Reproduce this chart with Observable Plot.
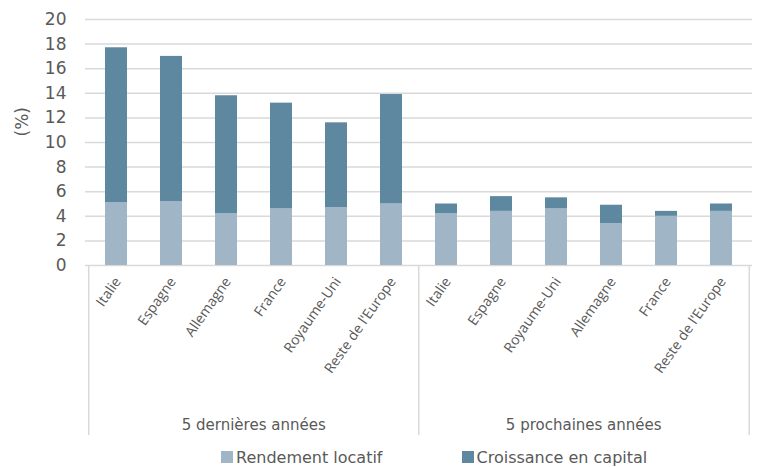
<!DOCTYPE html>
<html>
<head>
<meta charset="utf-8">
<script src="https://cdn.jsdelivr.net/npm/d3@7"></script>
<script src="https://cdn.jsdelivr.net/npm/@observablehq/plot@0.6"></script>
<style>
  body { margin: 0; background: #fff; }
  #chart { width: 757px; }
  .legend { display: flex; align-items: center; height: 20px; padding-top: 7px; padding-left: 221px;
            font-family: "DejaVu Sans", sans-serif; font-size: 16px; color: #595959; }
  .legend .item { display: flex; align-items: center; margin-right: 79px; }
  .legend .sw { width: 12px; height: 12px; margin-right: 3px; }
</style>
</head>
<body>
<div id="chart"></div>
<script>
// Périodes et pays
const groups = ["5 dernières années", "5 prochaines années"];
const countriesPast = ["Italie", "Espagne", "Allemagne", "France", "Royaume-Uni", "Reste de l'Europe"];
const countriesNext = ["Italie", "Espagne", "Royaume-Uni", "Allemagne", "France", "Reste de l'Europe"];

// Rendement locatif et croissance en capital (%)
const rendementPast = [5.1, 5.2, 4.2, 4.6, 4.7, 5.0];
const croissancePast = [12.6, 11.8, 9.6, 8.6, 6.9, 8.9];
const rendementNext = [4.2, 4.4, 4.6, 3.4, 4.0, 4.4];
const croissanceNext = [0.8, 1.2, 0.9, 1.5, 0.4, 0.6];

const series = ["Rendement locatif", "Croissance en capital"];
const colors = ["#a0b6c6", "#5e87a0"];
const yTicks = [0, 2, 4, 6, 8, 10, 12, 14, 16, 18, 20];

// One row per bar, keyed by period and country
const bars = [
  ...countriesPast.map((c, i) => ({key: groups[0] + "|" + c, group: groups[0], country: c, rendement: rendementPast[i], croissance: croissancePast[i]})),
  ...countriesNext.map((c, i) => ({key: groups[1] + "|" + c, group: groups[1], country: c, rendement: rendementNext[i], croissance: croissanceNext[i]}))
];
const keys = bars.map(d => d.key);
const stacked = bars.flatMap(d => [
  {key: d.key, serie: series[0], value: d.rendement},
  {key: d.key, serie: series[1], value: d.croissance}
]);

const W = 757, H = 440, mL = 85, mR = 5, mT = 19, mB = 175;
const step = (W - mL - mR) / keys.length;
const frameH = H - mT - mB;
const gray = "#595959";

// Period boundaries below the axis: left edge of each period, right edge of the last
const boxRule = {stroke: "#d9d9d9", strokeWidth: 1.5, insetTop: frameH, insetBottom: -170};

const chart = Plot.plot({
  width: W, height: H,
  marginLeft: mL, marginRight: mR, marginTop: mT, marginBottom: mB,
  style: {fontFamily: "DejaVu Sans, sans-serif", color: gray, background: "#fff"},
  x: {type: "band", domain: keys, paddingInner: 0.6, paddingOuter: 0.3, axis: null},
  y: {domain: [0, 20], axis: null},
  color: {domain: series, range: colors},
  marks: [
    Plot.ruleY(yTicks, {stroke: "#d9d9d9", strokeWidth: 1.5}),
    Plot.barY(stacked, {x: "key", y: "value", fill: "serie", order: series}),
    Plot.axisY({ticks: yTicks, tickSize: 0, tickPadding: 19, fontSize: 17, label: null, fill: gray}),
    Plot.text(["(%)"], {frameAnchor: "left", dx: -63, dy: -6, rotate: -90, fontSize: 17, fill: gray}),
    Plot.text(bars, {x: "key", text: "country", frameAnchor: "bottom", rotate: -55, textAnchor: "end",
                     dx: 5, dy: 16, fontSize: 14, fontFamily: "Open Sans, sans-serif", fill: gray}),
    Plot.ruleX([keys[0], keys[6]], {x: d => d, dx: -step / 2, ...boxRule}),
    Plot.ruleX([keys[11]], {x: d => d, dx: step / 2, ...boxRule}),
    Plot.text(groups, {x: (g, i) => keys[i * 6 + 3], dx: -step / 2, frameAnchor: "bottom", dy: 164,
                       fontSize: 15, fill: gray})
  ]
});
document.getElementById("chart").appendChild(chart);

// Legend below the chart
const legend = d3.select("#chart").append("div").attr("class", "legend");
series.forEach((s, i) => {
  const item = legend.append("div").attr("class", "item");
  item.append("div").attr("class", "sw").style("background", colors[i]);
  item.append("span").text(s);
});
</script>
</body>
</html>
